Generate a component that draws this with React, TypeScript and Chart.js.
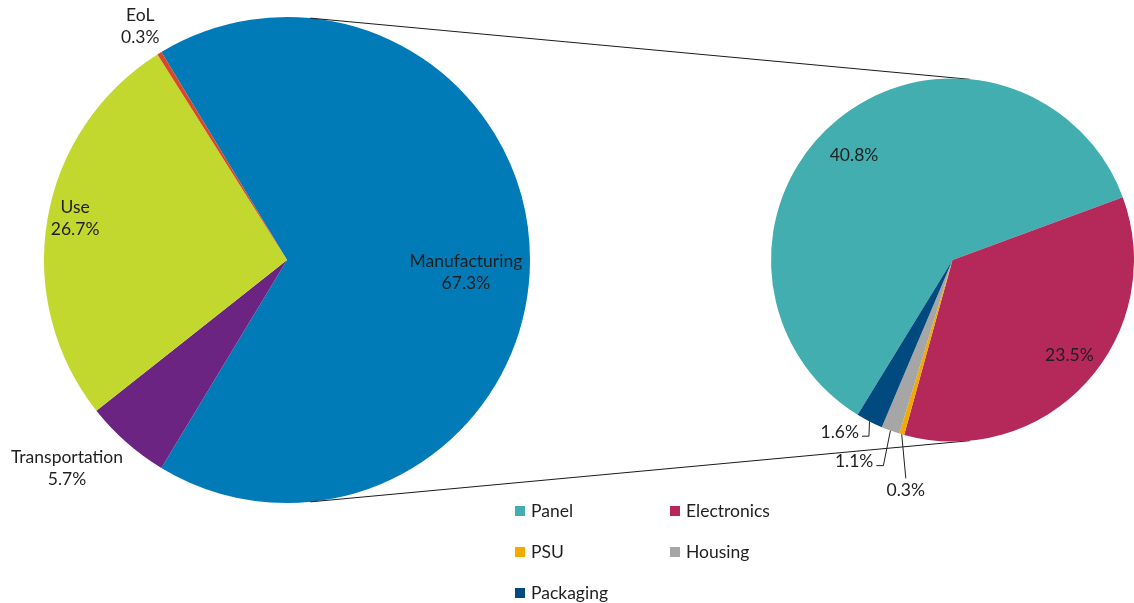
import React, { useEffect, useRef } from 'react';
import { Chart, registerables } from 'chart.js';

Chart.register(...registerables);

// ---- data ----
const mainCategories = ['Manufacturing', 'Transportation', 'Use', 'EoL'];
const mainValues = [67.3, 5.7, 26.7, 0.3];
const mainColors = ['#007BB8', '#6C2483', '#C3D82E', '#D9472B'];

const subCategories = ['Panel', 'Electronics', 'PSU', 'Housing', 'Packaging'];
const subValues = [40.8, 23.5, 0.3, 1.1, 1.6];
const subColors = ['#43AEB0', '#B5285A', '#F2A900', '#A6A6A6', '#004A80'];

// ---- label styling ----
const mainLabelRadius = [0.738, 1.246, 0.889, 1.134];
const mainLabelShift = [4, 5.2, 1.5, -0.5];
const subLabelRadius = [0.79, 0.83, 1.295, 1.236, 1.134];
const subLabelShift = [-4, -3.5, -4.8, 6, 6];
const subLeader = ['', '', 'top', 'right', 'right'];

const FONT_FAMILY = 'Lato, "Open Sans", sans-serif';
const FONT_SIZE = 17.5;
const TEXT_COLOR = '#1f1f1f';
const LINE_HEIGHT = 22;
const CONNECTOR_ANGLE = 5.5; // degrees from vertical

const W = 1134;
const H = 603;

function pct(v: number) {
  return v.toFixed(1) + '%';
}

function makeLabelPlugin(
  id: string,
  names: string[] | null,
  values: number[],
  radius: number[],
  shift: number[],
  leader: string[] | null
) {
  return {
    id,
    afterDatasetsDraw(chart: any) {
      const ctx = chart.ctx as CanvasRenderingContext2D;
      const meta = chart.getDatasetMeta(0);
      ctx.save();
      ctx.font = `${FONT_SIZE}px ${FONT_FAMILY}`;
      ctx.fillStyle = TEXT_COLOR;
      ctx.strokeStyle = TEXT_COLOR;
      ctx.lineWidth = 1;
      ctx.textAlign = 'center';
      ctx.textBaseline = 'middle';
      meta.data.forEach((arc: any, i: number) => {
        const p = arc.getProps(['x', 'y', 'startAngle', 'endAngle', 'outerRadius'], true);
        const mid0 = (p.startAngle + p.endAngle) / 2;
        const mid = mid0 + (shift[i] * Math.PI) / 180;
        const r = p.outerRadius * radius[i];
        const lx = p.x + Math.cos(mid) * r;
        const ly = p.y + Math.sin(mid) * r;
        const lines = names ? [names[i], pct(values[i])] : [pct(values[i])];
        const top = ly - ((lines.length - 1) * LINE_HEIGHT) / 2;
        lines.forEach((t, k) => ctx.fillText(t, lx, top + k * LINE_HEIGHT));
        const mode = leader ? leader[i] : '';
        if (mode) {
          const ax = p.x + Math.cos(mid0) * p.outerRadius;
          const ay = p.y + Math.sin(mid0) * p.outerRadius;
          const w = Math.max(...lines.map((t) => ctx.measureText(t).width));
          ctx.beginPath();
          if (mode === 'right') {
            ctx.moveTo(lx + w / 2 + 3, ly + 4);
            ctx.lineTo(lx + w / 2 + 10, ly + 4);
            ctx.lineTo(ax, ay);
          } else {
            ctx.moveTo(lx, ly - 12);
            ctx.lineTo(ax, ay);
          }
          ctx.stroke();
        }
      });
      ctx.restore();
    },
  };
}

export default function App() {
  const mainRef = useRef<HTMLCanvasElement | null>(null);
  const subRef = useRef<HTMLCanvasElement | null>(null);

  useEffect(() => {
    if (!mainRef.current || !subRef.current) return;
    const total = mainValues.reduce((a, b) => a + b, 0);
    const mainRotation = 90 - ((mainValues[0] / total) * 360) / 2;

    const mainChart = new Chart(mainRef.current, {
      type: 'pie',
      data: {
        labels: mainCategories,
        datasets: [
          {
            data: mainValues,
            backgroundColor: mainColors,
            borderWidth: 0,
          },
        ],
      },
      options: {
        responsive: false,
        animation: false,
        events: [],
        rotation: mainRotation,
        layout: { padding: { left: 44, top: 17, right: W - 530, bottom: H - 503 } },
        plugins: { legend: { display: false }, tooltip: { enabled: false } },
      },
      plugins: [
        makeLabelPlugin('mainLabels', mainCategories, mainValues, mainLabelRadius, mainLabelShift, null),
      ],
    } as any);

    const connectorPlugin = {
      id: 'connectors',
      beforeDatasetsDraw(chart: any) {
        const a = mainChart.getDatasetMeta(0).data[0] as any;
        const b = chart.getDatasetMeta(0).data[0] as any;
        if (!a || !b) return;
        const pa = a.getProps(['x', 'y', 'outerRadius'], true);
        const pb = b.getProps(['x', 'y', 'outerRadius'], true);
        const t = (CONNECTOR_ANGLE * Math.PI) / 180;
        const ctx = chart.ctx as CanvasRenderingContext2D;
        ctx.save();
        ctx.strokeStyle = '#1a1a1a';
        ctx.lineWidth = 1;
        ctx.beginPath();
        ctx.moveTo(pa.x + Math.sin(t) * pa.outerRadius, pa.y - Math.cos(t) * pa.outerRadius);
        ctx.lineTo(pb.x + Math.sin(t) * pb.outerRadius, pb.y - Math.cos(t) * pb.outerRadius);
        ctx.moveTo(pa.x + Math.sin(t) * pa.outerRadius, pa.y + Math.cos(t) * pa.outerRadius);
        ctx.lineTo(pb.x + Math.sin(t) * pb.outerRadius, pb.y + Math.cos(t) * pb.outerRadius);
        ctx.stroke();
        ctx.restore();
      },
    };

    const subChart = new Chart(subRef.current, {
      type: 'pie',
      data: {
        labels: subCategories,
        datasets: [
          {
            data: subValues,
            backgroundColor: subColors,
            borderWidth: 0,
          },
        ],
      },
      options: {
        responsive: false,
        animation: false,
        events: [],
        rotation: 211.5,
        layout: { padding: { left: 771, top: 78, right: 0, bottom: H - 442 } },
        plugins: { legend: { display: false }, tooltip: { enabled: false } },
      },
      plugins: [
        connectorPlugin,
        makeLabelPlugin('subLabels', null, subValues, subLabelRadius, subLabelShift, subLeader),
      ],
    } as any);

    return () => {
      subChart.destroy();
      mainChart.destroy();
    };
  }, []);

  const canvasStyle: React.CSSProperties = {
    position: 'absolute',
    left: 0,
    top: 0,
    width: W,
    height: H,
  };

  return (
    <div
      style={{
        position: 'absolute',
        left: 0,
        top: 0,
        width: W,
        height: H,
        background: '#ffffff',
        overflow: 'hidden',
      }}
    >
      <canvas ref={mainRef} width={W} height={H} style={canvasStyle} />
      <canvas ref={subRef} width={W} height={H} style={canvasStyle} />
      <div
        style={{
          position: 'absolute',
          left: 515,
          top: 490,
          width: 320,
          display: 'flex',
          flexWrap: 'wrap',
          fontFamily: FONT_FAMILY,
          fontSize: FONT_SIZE,
          color: TEXT_COLOR,
        }}
      >
        {subCategories.map((c, i) => (
          <div
            key={c}
            style={{ width: 155, height: 41, display: 'flex', alignItems: 'center' }}
          >
            <span
              style={{
                display: 'inline-block',
                width: 10,
                height: 10,
                background: subColors[i],
                marginRight: 6,
              }}
            />
            <span>{c}</span>
          </div>
        ))}
      </div>
    </div>
  );
}
